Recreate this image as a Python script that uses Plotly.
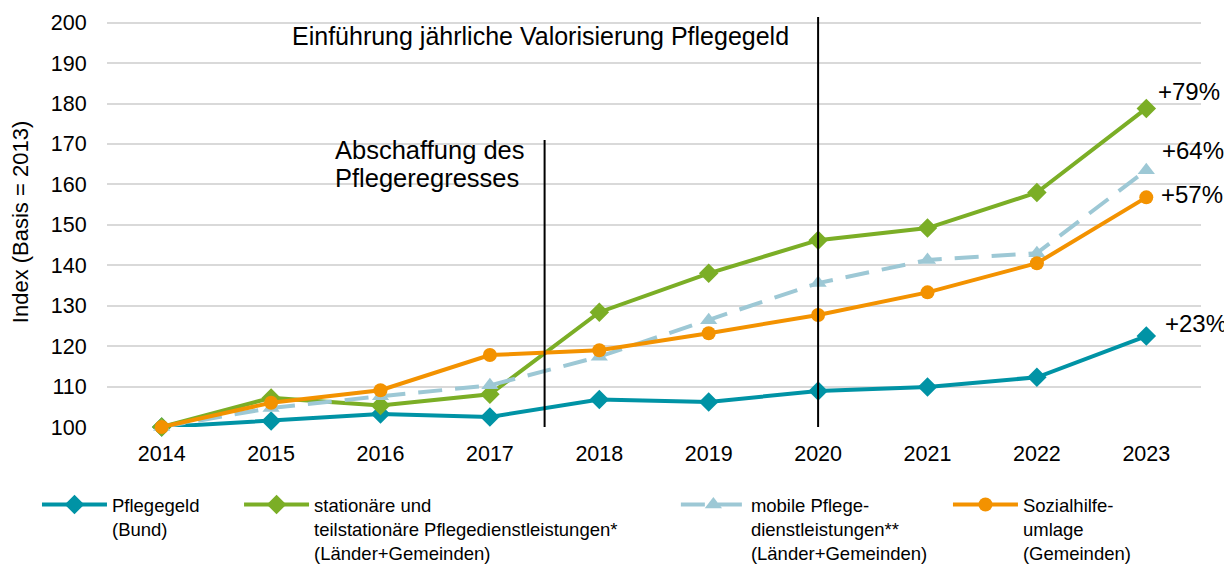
import plotly.graph_objects as go

years = [2014, 2015, 2016, 2017, 2018, 2019, 2020, 2021, 2022, 2023]
pflegegeld = [100, 101.5, 103.2, 102.5, 106.8, 106.2, 108.9, 109.9, 112.3, 122.5]
stationaer = [100, 107.2, 105.3, 108.1, 128.4, 138.0, 146.2, 149.2, 158.0, 178.8]
mobile = [100, 104.7, 107.6, 110.3, 117.4, 126.4, 135.6, 141.3, 143.0, 163.5]
sozialhilfe = [100, 106.0, 109.1, 117.8, 119.0, 123.2, 127.7, 133.3, 140.5, 156.8]

names = [
    "Pflegegeld<br>(Bund)<br> ",
    "stationäre und<br>teilstationäre Pflegedienstleistungen*<br>(Länder+Gemeinden)",
    "mobile Pflege-<br>dienstleistungen**<br>(Länder+Gemeinden)",
    "Sozialhilfe-<br>umlage<br>(Gemeinden)",
]
pct_labels = ["+23%", "+79%", "+64%", "+57%"]
pct_x = [2023.45, 2023.39, 2023.43, 2023.42]
pct_y = [125.7, 182.9, 168.5, 157.4]

C_TEAL = "#0093A5"
C_GREEN = "#7BAE26"
C_LBLUE = "#9DC8D5"
C_ORANGE = "#F39200"
FONT = "Liberation Sans, Arial, sans-serif"

fig = go.Figure()
fig.add_trace(go.Scatter(x=years, y=pflegegeld, name=names[0], mode="lines+markers",
                         line=dict(color=C_TEAL, width=4),
                         marker=dict(symbol="diamond", size=15, color=C_TEAL),
                         cliponaxis=False, legend="legend"))
fig.add_trace(go.Scatter(x=years, y=stationaer, name=names[1], mode="lines+markers",
                         line=dict(color=C_GREEN, width=4),
                         marker=dict(symbol="diamond", size=15, color=C_GREEN),
                         cliponaxis=False, legend="legend2"))
fig.add_trace(go.Scatter(x=years, y=mobile, name=names[2], mode="lines+markers",
                         line=dict(color=C_LBLUE, width=4, dash="24px,13px"),
                         marker=dict(symbol="triangle-up", size=15, color=C_LBLUE),
                         cliponaxis=False, legend="legend3"))
fig.add_trace(go.Scatter(x=years, y=sozialhilfe, name=names[3], mode="lines+markers",
                         line=dict(color=C_ORANGE, width=4),
                         marker=dict(symbol="circle", size=14, color=C_ORANGE),
                         cliponaxis=False, legend="legend4"))

# vertical event lines
fig.add_shape(type="line", xref="x", yref="y", x0=2017.5, x1=2017.5, y0=100, y1=171,
              line=dict(color="black", width=2))
fig.add_shape(type="line", xref="x", yref="y", x0=2020, x1=2020, y0=100, y1=201.4,
              line=dict(color="black", width=2))

fig.add_annotation(x=2017.46, y=196.7, xref="x", yref="y", showarrow=False,
                   text="Einführung jährliche Valorisierung Pflegegeld",
                   font=dict(size=25, color="black", family=FONT))
fig.add_annotation(x=2015.57, y=168.5, xref="x", yref="y", showarrow=False,
                   xanchor="left", text="Abschaffung des",
                   font=dict(size=25.5, color="black", family=FONT))
fig.add_annotation(x=2015.57, y=161.6, xref="x", yref="y", showarrow=False,
                   xanchor="left", text="Pflegeregresses",
                   font=dict(size=25.5, color="black", family=FONT))
for t, xx, yy in zip(pct_labels, pct_x, pct_y):
    fig.add_annotation(x=xx, y=yy, xref="x", yref="y", showarrow=False, text=t,
                       font=dict(size=24, color="black", family=FONT))

leg_common = dict(orientation="v", valign="top", bgcolor="rgba(0,0,0,0)",
                  font=dict(size=18.5, color="black", family=FONT),
                  itemwidth=65,
                  yanchor="bottom", xanchor="left", y=-0.3537)

fig.update_layout(
    width=1232, height=566,
    margin=dict(l=99, r=39, t=9, b=147, autoexpand=False),
    plot_bgcolor="white", paper_bgcolor="white",
    font=dict(family=FONT, color="black"),
    showlegend=True,
    xaxis=dict(range=[2013.5, 2023.5], tickvals=years, ticktext=[str(y) for y in years],
               showgrid=False, zeroline=False, showline=False, automargin=False,
               ticks="outside", ticklen=7, tickcolor="rgba(0,0,0,0)",
               tickfont=dict(size=21.5, color="black", family=FONT)),
    yaxis=dict(range=[100, 201.4], tickvals=list(range(100, 201, 10)),
               showgrid=True, gridcolor="#D9D9D9", gridwidth=1.5, zeroline=False,
               automargin=False,
               ticks="outside", ticklen=15, tickcolor="rgba(0,0,0,0)",
               tickfont=dict(size=21.5, color="black", family=FONT)),
    legend=dict(x=-0.064, **leg_common),
    legend2=dict(x=0.1207, **leg_common),
    legend3=dict(x=0.520, **leg_common),
    legend4=dict(x=0.7687, **leg_common),
)
fig.update_yaxes(title=dict(text="Index (Basis = 2013)", standoff=17,
                            font=dict(size=22, color="black", family=FONT)))

fig.write_html("out.html")
